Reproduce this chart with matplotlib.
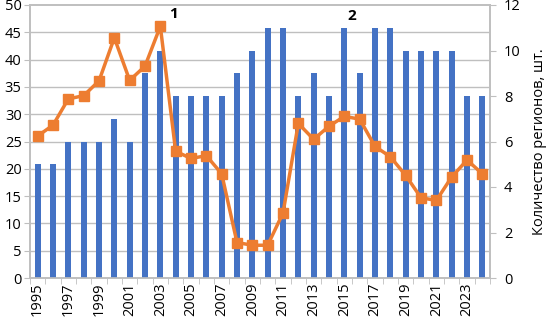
import numpy as np
import matplotlib
matplotlib.use("Agg")
import matplotlib.pyplot as plt

# ====================================
# ДАННЫЕ
# ====================================

years = list(range(1995, 2025))

# количество регионов (правая ось), столбцы
regions = [5, 5, 6, 6, 6, 7, 6, 9, 10, 8, 8, 8, 8, 9, 10,
           11, 11, 8, 9, 8, 11, 9, 11, 11, 10, 10, 10, 10, 8, 8]

# показатель (левая ось), линия
values = [26.0, 28.0, 32.8, 33.4, 36.1, 44.0, 36.2, 38.8, 46.1, 23.2,
          21.9, 22.4, 19.1, 6.5, 6.0, 6.0, 11.9, 28.3, 25.4, 27.8,
          29.6, 29.1, 24.1, 22.2, 18.8, 14.7, 14.2, 18.5, 21.6, 19.1]

tick_years = [str(y) if y % 2 == 1 else "" for y in years]

BLUE = "#4472C4"
ORANGE = "#ED7D31"
GRID = "#BFBFBF"

plt.rcParams["font.family"] = ["Open Sans", "DejaVu Sans"]
FS = 10.5

fig = plt.figure(figsize=(5.54, 3.21), dpi=100)
ax = fig.add_axes([30 / 554, 1 - 278 / 321, 460 / 554, 273 / 321])
ax2 = ax.twinx()

x = np.arange(len(years))

# столбцы на правой оси
ax2.bar(x, regions, width=0.4, color=BLUE, zorder=2)
ax2.set_ylim(0, 12)
ax2.set_yticks(range(0, 13, 2))

# линия на левой оси
ax.set_ylim(0, 50)
ax.set_yticks(range(0, 51, 5))
ax.set_xlim(-0.5, len(years) - 0.5)
for yv in range(5, 50, 5):
    ax.axhline(yv, color=GRID, linewidth=1, zorder=0)

ax2.plot(x, [v * 12 / 50 for v in values], color=ORANGE, linewidth=2.5,
         marker="s", markersize=6.5, zorder=3)

ax.set_xticks(x)
ax.set_xticklabels(tick_years, rotation=90)
ax.set_xticks(np.arange(-0.5, len(years), 1), minor=True)
ax.tick_params(axis="x", which="major", length=0, labelsize=FS, pad=3)
ax.tick_params(axis="x", which="minor", length=4, color=GRID)
ax.tick_params(axis="y", length=4, color=GRID, labelsize=FS, pad=2)
ax2.tick_params(axis="y", length=4, color=GRID, labelsize=FS, pad=6)

for a in (ax, ax2):
    for s in a.spines.values():
        s.set_color(GRID)
        s.set_linewidth(1.2)

ax2.set_ylabel("Количество регионов, шт.", fontsize=FS, labelpad=8)

ax2.text(2003 - 1995 + 0.55, 46.1 * 12 / 50 + 0.25, "1",
         fontsize=11, fontweight="bold", ha="left", va="bottom")
ax2.text(2015 - 1995 + 0.5, 11.2, "2",
         fontsize=11, fontweight="bold", ha="center", va="bottom")

fig.savefig("out.png", dpi=100)
